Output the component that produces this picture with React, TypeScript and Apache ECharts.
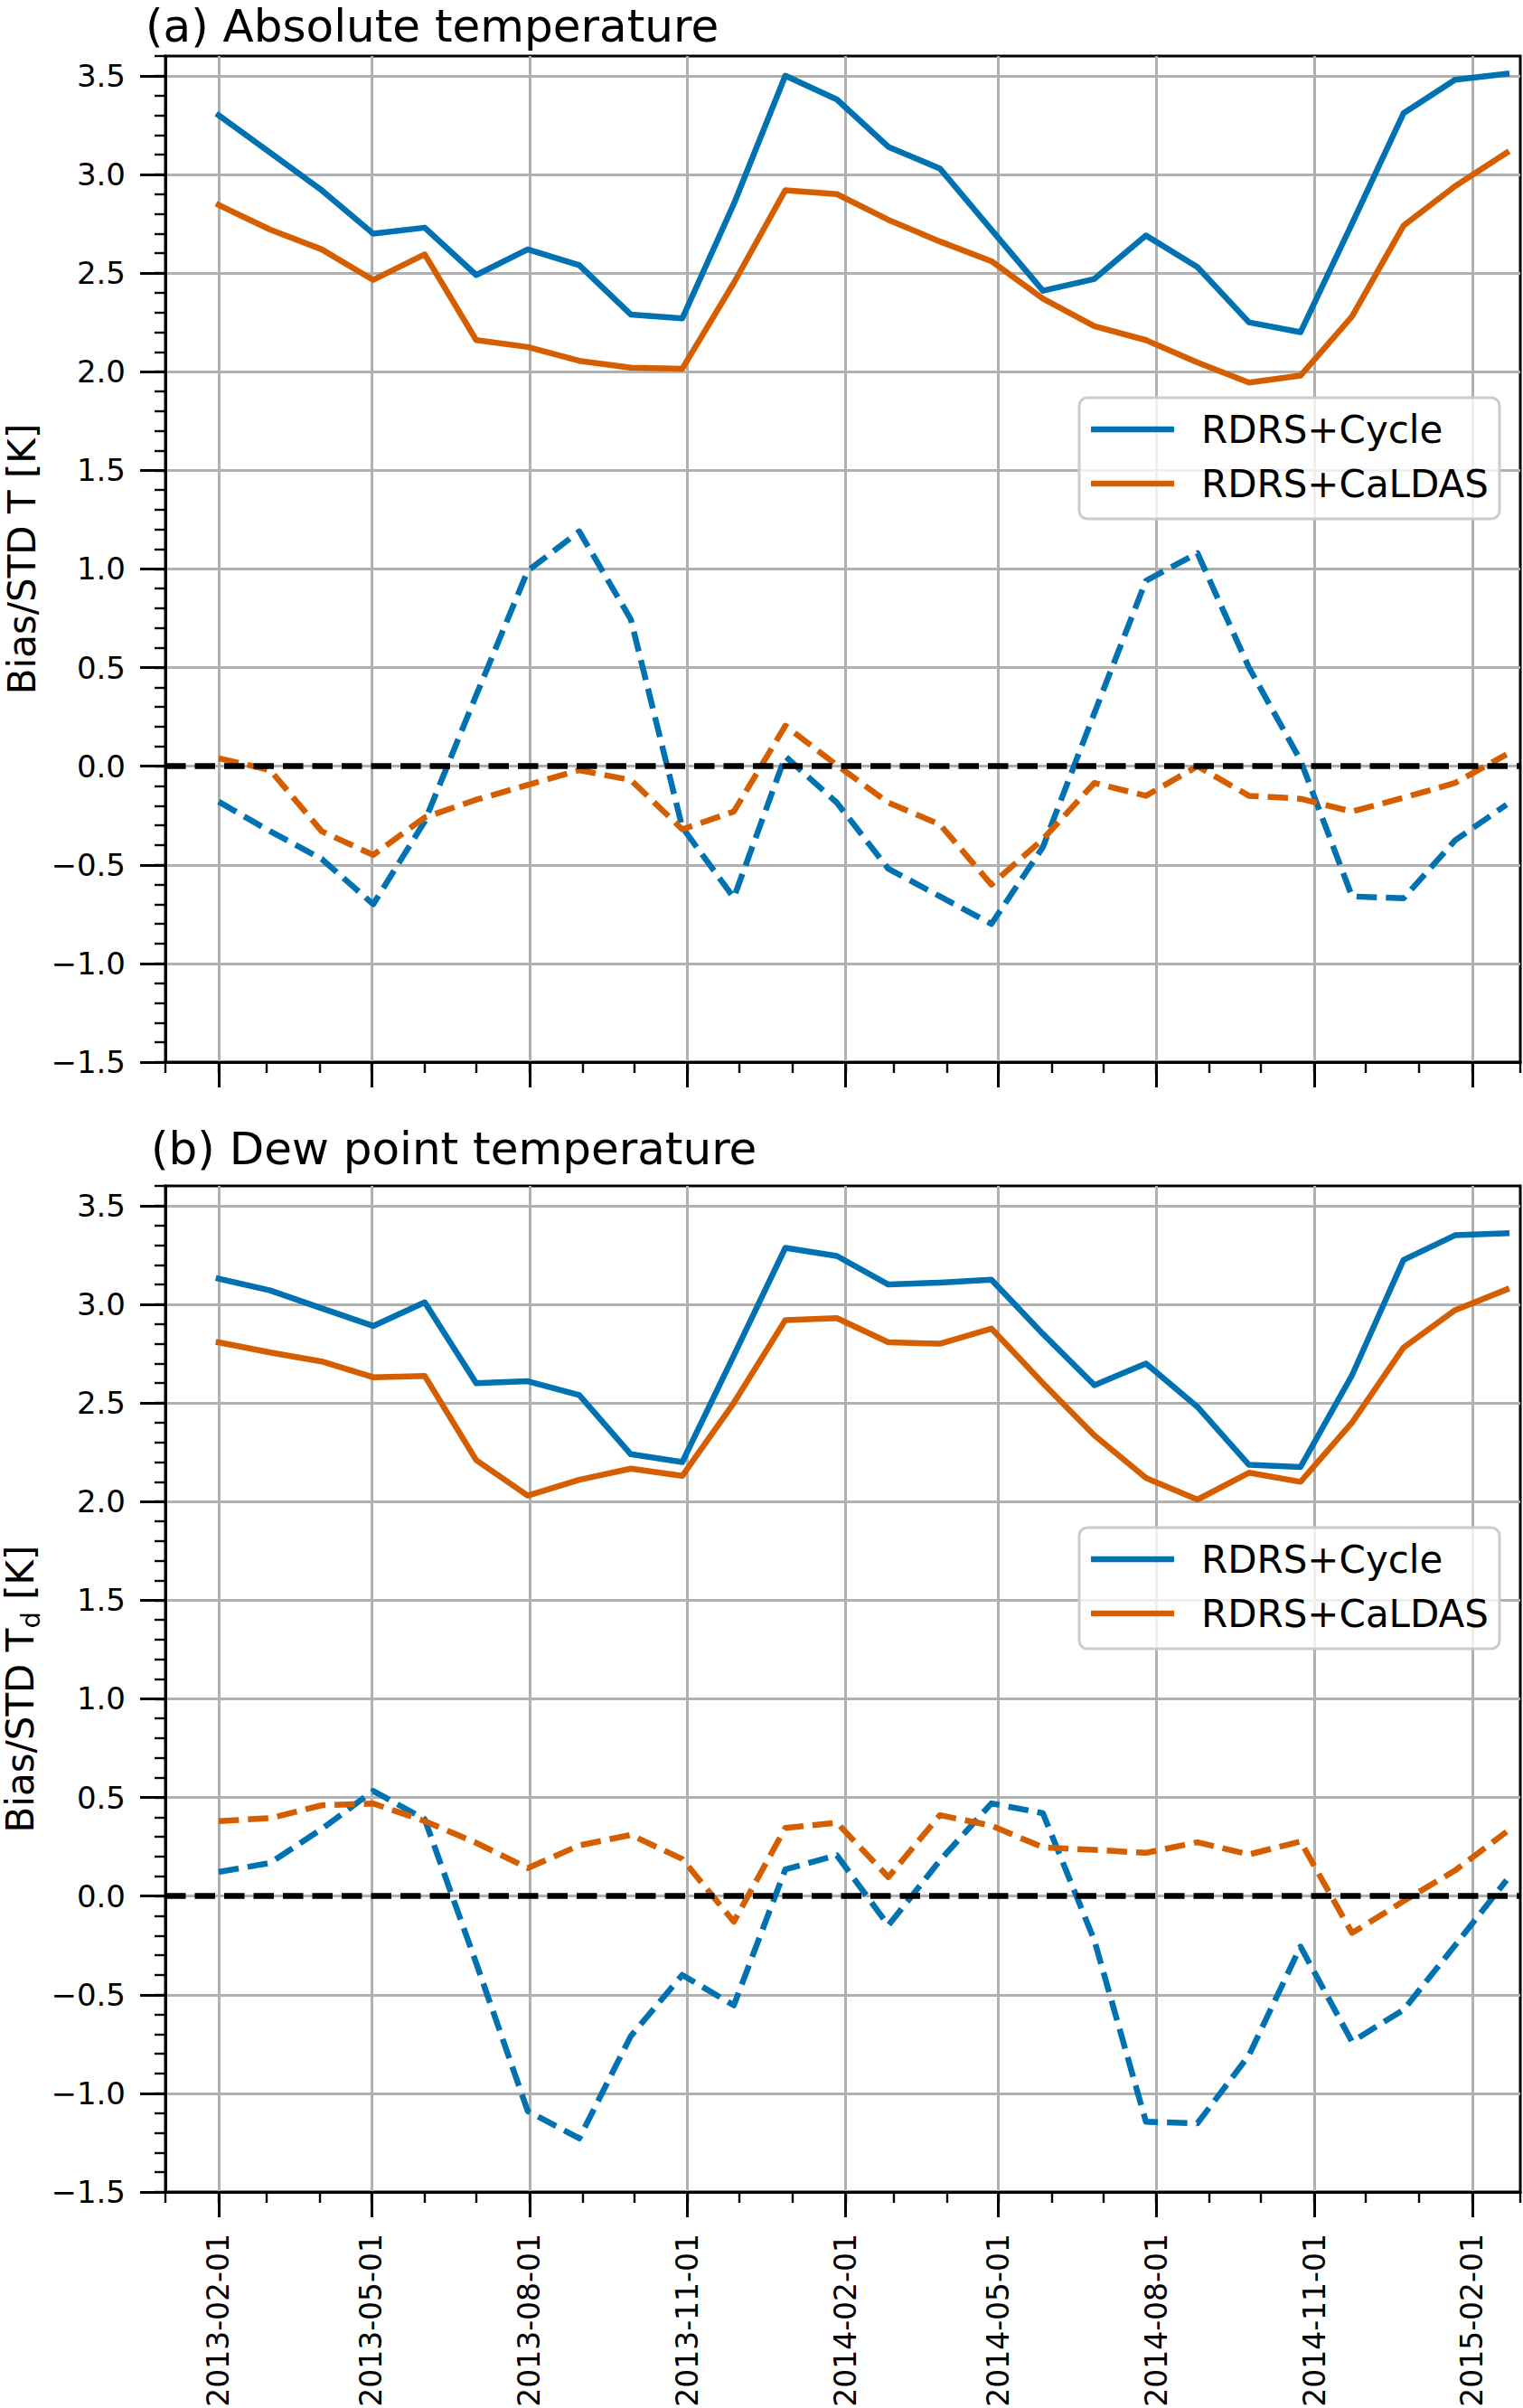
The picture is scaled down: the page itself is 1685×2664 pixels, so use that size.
import React, { useEffect, useRef } from "react";
import * as echarts from "echarts";

// ---- data ----
const dates = [
  "2013-02-01", "2013-03-03", "2013-04-02", "2013-05-02", "2013-06-01", "2013-07-01",
  "2013-07-31", "2013-08-30", "2013-09-29", "2013-10-29", "2013-11-28", "2013-12-28",
  "2014-01-27", "2014-02-26", "2014-03-28", "2014-04-27", "2014-05-27", "2014-06-26",
  "2014-07-26", "2014-08-25", "2014-09-24", "2014-10-24", "2014-11-23", "2014-12-23",
  "2015-01-22", "2015-02-21",
];

// (a) Absolute temperature
const cycleStdT = [3.30, 3.11, 2.92, 2.70, 2.73, 2.49, 2.62, 2.54, 2.29, 2.27, 2.85, 3.50, 3.38, 3.14, 3.03, 2.72, 2.41, 2.47, 2.69, 2.53, 2.25, 2.20, 2.75, 3.31, 3.48, 3.51];
const caldasStdT = [2.845, 2.72, 2.62, 2.465, 2.595, 2.16, 2.125, 2.055, 2.02, 2.015, 2.45, 2.92, 2.90, 2.77, 2.66, 2.56, 2.37, 2.23, 2.16, 2.047, 1.945, 1.98, 2.28, 2.74, 2.94, 3.11];
const cycleBiasT = [-0.18, -0.33, -0.47, -0.70, -0.28, 0.36, 0.99, 1.19, 0.745, -0.31, -0.667, 0.05, -0.185, -0.52, -0.66, -0.80, -0.41, 0.27, 0.94, 1.08, 0.50, 0.03, -0.66, -0.67, -0.376, -0.195];
const caldasBiasT = [0.04, -0.02, -0.33, -0.45, -0.26, -0.17, -0.095, -0.02, -0.07, -0.32, -0.23, 0.205, 0.005, -0.185, -0.295, -0.60, -0.37, -0.085, -0.15, 0.0, -0.15, -0.165, -0.23, -0.16, -0.085, 0.06];

// (b) Dew point temperature
const cycleStdTd = [3.13, 3.07, 2.98, 2.89, 3.01, 2.60, 2.61, 2.54, 2.24, 2.20, 2.74, 3.286, 3.245, 3.10, 3.11, 3.125, 2.85, 2.59, 2.70, 2.48, 2.186, 2.175, 2.64, 3.225, 3.35, 3.36];
const caldasStdTd = [2.807, 2.756, 2.71, 2.63, 2.637, 2.21, 2.03, 2.11, 2.167, 2.13, 2.50, 2.92, 2.93, 2.807, 2.80, 2.877, 2.60, 2.335, 2.12, 2.01, 2.146, 2.10, 2.40, 2.78, 2.97, 3.075];
const cycleBiasTd = [0.122, 0.168, 0.34, 0.533, 0.39, -0.34, -1.09, -1.228, -0.71, -0.40, -0.554, 0.135, 0.207, -0.149, 0.18, 0.47, 0.42, -0.225, -1.144, -1.152, -0.807, -0.256, -0.738, -0.577, -0.25, 0.081];
const caldasBiasTd = [0.38, 0.395, 0.46, 0.469, 0.38, 0.27, 0.142, 0.257, 0.31, 0.188, -0.13, 0.345, 0.372, 0.096, 0.41, 0.357, 0.247, 0.234, 0.219, 0.273, 0.211, 0.277, -0.187, -0.026, 0.13, 0.326];

const xMinDate = "2013-01-01";
const xMaxDate = "2015-03-01";
const xMajorTickDates = [
  "2013-02-01", "2013-05-01", "2013-08-01", "2013-11-01", "2014-02-01",
  "2014-05-01", "2014-08-01", "2014-11-01", "2015-02-01",
];
const yMin = -1.5;
const yMax = 3.6;
const yMajorTicks = [-1.5, -1.0, -0.5, 0.0, 0.5, 1.0, 1.5, 2.0, 2.5, 3.0, 3.5];

const titles = ["(a) Absolute temperature", "(b) Dew point temperature"];
const legendNames = ["RDRS+Cycle", "RDRS+CaLDAS"];
const yLabelA = "Bias/STD T [K]";
const yLabelBParts = ["Bias/STD T", "d", " [K]"]; // middle part is a subscript

// ---- style ----
const FONT = "DejaVu Sans";
const BLUE = "#0072B2";
const ORANGE = "#D55E00";
const GRID_COLOR = "#b0b0b0";
const GRID_LEFT = 183;
const GRID_W = 1499;
const GRID_H = 1113;
const GRID_TOPS = [62, 1312];
const LW = 6.5;
const DASH = [22.5, 10];

function ts(s: string): number {
  const [y, m, d] = s.split("-").map(Number);
  return Date.UTC(y, m - 1, d);
}
function pad2(n: number) {
  return n < 10 ? "0" + n : "" + n;
}
function fmtDate(v: number): string {
  const d = new Date(v);
  return d.getUTCFullYear() + "-" + pad2(d.getUTCMonth() + 1) + "-" + pad2(d.getUTCDate());
}
function fmtY(v: number): string {
  const r = Math.round(v * 10) / 10;
  return (r < 0 ? "\u2212" : "") + Math.abs(r).toFixed(1);
}

function monthlyTicks(): number[] {
  const out: number[] = [];
  const [y0, m0] = xMinDate.split("-").map(Number);
  const end = ts(xMaxDate);
  let y = y0;
  let m = m0 - 1;
  for (;;) {
    const t = Date.UTC(y, m, 1);
    if (t > end) break;
    out.push(t);
    m++;
    if (m > 11) {
      m = 0;
      y++;
    }
  }
  return out;
}
function yMinorTicks(): number[] {
  const out: number[] = [];
  for (let k = Math.round(yMin * 10); k <= Math.round(yMax * 10); k++) out.push(k / 10);
  return out;
}

function measure(text: string, size: number): number {
  const c = document.createElement("canvas");
  const ctx = c.getContext("2d");
  if (!ctx) return text.length * size * 0.6;
  ctx.font = size + "px '" + FONT + "'";
  return ctx.measureText(text).width;
}

export default function App() {
  const ref = useRef<HTMLDivElement>(null);

  useEffect(() => {
    document.body.style.margin = "0";
    document.body.style.overflow = "hidden";
    if (!ref.current) return;
    const chart = echarts.init(ref.current, undefined, { renderer: "svg" });

    const xMin = ts(xMinDate);
    const xMax = ts(xMaxDate);
    const xMajor = xMajorTickDates.map(ts);
    const xMinor = monthlyTicks();
    const yMinor = yMinorTicks();

    const grids: any[] = [];
    const xAxes: any[] = [];
    const yAxes: any[] = [];
    const series: any[] = [];
    const legends: any[] = [];
    const graphics: any[] = [];

    const panels = [
      { std: [cycleStdT, caldasStdT], bias: [cycleBiasT, caldasBiasT] },
      { std: [cycleStdTd, caldasStdTd], bias: [cycleBiasTd, caldasBiasTd] },
    ];

    panels.forEach((panel, p) => {
      grids.push({
        left: GRID_LEFT,
        top: GRID_TOPS[p],
        width: GRID_W,
        height: GRID_H,
        show: true,
        borderColor: "#000",
        borderWidth: 3,
        backgroundColor: "transparent",
        containLabel: false,
        outerBoundsMode: "none",
      });
      xAxes.push({
        type: "value",
        gridIndex: p,
        min: xMin,
        max: xMax,
        position: "bottom",
        axisLine: { show: true, onZero: false, lineStyle: { color: "#000", width: 3 } },
        axisTick: {
          show: true,
          inside: false,
          length: 28,
          customValues: xMajor,
          lineStyle: { color: "#000", width: 3 },
        },
        axisLabel: {
          show: p === 1,
          customValues: xMajor,
          rotate: 90,
          margin: 46,
          fontSize: 33,
          fontFamily: FONT,
          color: "#000",
          formatter: (v: number) => fmtDate(v),
        },
        splitLine: { show: true, lineStyle: { color: GRID_COLOR, width: 3 } },
      });
      xAxes.push({
        type: "value",
        gridIndex: p,
        min: xMin,
        max: xMax,
        position: "bottom",
        axisLine: { show: false, onZero: false },
        axisTick: {
          show: true,
          inside: false,
          length: 12,
          customValues: xMinor,
          lineStyle: { color: "#000", width: 2.4 },
        },
        axisLabel: { show: false },
        splitLine: { show: false },
      });
      yAxes.push({
        type: "value",
        gridIndex: p,
        min: yMin,
        max: yMax,
        interval: 0.5,
        position: "left",
        axisLine: { show: true, onZero: false, lineStyle: { color: "#000", width: 3 } },
        axisTick: {
          show: true,
          inside: false,
          length: 28,
          customValues: yMajorTicks,
          lineStyle: { color: "#000", width: 3 },
        },
        axisLabel: {
          show: true,
          customValues: yMajorTicks,
          margin: 44,
          fontSize: 34,
          fontFamily: FONT,
          color: "#000",
          formatter: (v: number) => fmtY(v),
        },
        splitLine: { show: true, lineStyle: { color: GRID_COLOR, width: 3 } },
        name: p === 0 ? yLabelA : "",
        nameLocation: "middle",
        nameRotate: 90,
        nameGap: 137,
        nameTextStyle: { fontSize: 42, lineHeight: 42, fontFamily: FONT, color: "#000" },
      });
      yAxes.push({
        type: "value",
        gridIndex: p,
        min: yMin,
        max: yMax,
        position: "left",
        axisLine: { show: false, onZero: false },
        axisTick: {
          show: true,
          inside: false,
          length: 12,
          customValues: yMinor,
          lineStyle: { color: "#000", width: 2.4 },
        },
        axisLabel: { show: false },
        splitLine: { show: false },
      });

      const mk = (name: string, vals: number[], color: string, dashed: boolean, extra: any = {}) => ({
        type: "line",
        name,
        xAxisIndex: p * 2,
        yAxisIndex: p * 2,
        data: dates.map((d, i) => [ts(d), vals[i]]),
        symbol: "none",
        showSymbol: false,
        silent: true,
        emphasis: { disabled: true },
        itemStyle: { color },
        lineStyle: {
          color,
          width: LW,
          type: dashed ? DASH : "solid",
          cap: dashed ? "butt" : "square",
          join: "round",
        },
        ...extra,
      });

      series.push(mk(legendNames[0], panel.std[0], BLUE, false));
      series.push(mk(legendNames[1], panel.std[1], ORANGE, false));
      series.push(mk(legendNames[0] + " bias", panel.bias[0], BLUE, true));
      series.push(
        mk(legendNames[1] + " bias", panel.bias[1], ORANGE, true, {
          markLine: {
            silent: true,
            symbol: "none",
            label: { show: false },
            emphasis: { disabled: true },
            lineStyle: { color: "#000", width: LW, type: DASH, cap: "butt" },
            data: [{ yAxis: 0 }],
          },
        })
      );

      legends.push({
        orient: "vertical",
        left: 1194,
        top: GRID_TOPS[p] + 378,
        data: legendNames,
        selectedMode: false,
        icon: "rect",
        itemWidth: 92,
        itemHeight: LW,
        itemGap: 18,
        padding: [14, 12, 18, 13],
        backgroundColor: "rgba(255,255,255,0.8)",
        borderColor: "#cccccc",
        borderWidth: 3,
        borderRadius: 9,
        textStyle: {
          fontSize: 42,
          lineHeight: 42,
          fontFamily: FONT,
          color: "#000",
          padding: [0, 0, 0, 25],
        },
      });

      graphics.push({
        type: "text",
        x: p === 0 ? 161 : 167,
        y: p === 0 ? 29 : 1271,
        silent: true,
        style: {
          text: titles[p],
          fontSize: 50,
          fontFamily: FONT,
          font: "50px 'DejaVu Sans'",
          fill: "#000",
          textAlign: "left",
          align: "left",
          textVerticalAlign: "middle",
          verticalAlign: "middle",
        },
      });
    });

    // y label of panel (b) with subscript, drawn as a rotated group
    const w1 = measure(yLabelBParts[0], 42);
    const w2 = measure(yLabelBParts[1], 29);
    const w3 = measure(yLabelBParts[2], 42);
    const W = w1 + w2 + w3;
    const baselineX = 37;
    const centerY = GRID_TOPS[1] + GRID_H / 2;
    const txt = (text: string, x: number, y: number, size: number) => ({
      type: "text",
      x,
      y,
      silent: true,
      style: {
        text,
        fontSize: size,
        fontFamily: FONT,
        font: size + "px 'DejaVu Sans'",
        fill: "#000",
        textAlign: "left",
        align: "left",
        textVerticalAlign: "middle",
        verticalAlign: "middle",
      },
    });
    graphics.push({
      type: "group",
      x: baselineX,
      y: centerY,
      rotation: Math.PI / 2,
      silent: true,
      children: [
        txt(yLabelBParts[0], -W / 2, -14.5, 42),
        txt(yLabelBParts[1], -W / 2 + w1, 7 - 10, 29),
        txt(yLabelBParts[2], -W / 2 + w1 + w2, -14.5, 42),
      ],
    });

    chart.setOption({
      animation: false,
      backgroundColor: "#ffffff",
      textStyle: { fontFamily: FONT },
      grid: grids,
      xAxis: xAxes,
      yAxis: yAxes,
      legend: legends,
      series,
      graphic: graphics,
    });

    return () => {
      chart.dispose();
    };
  }, []);

  return (
    <div
      ref={ref}
      style={{ position: "absolute", left: 0, top: 0, width: 1685, height: 2664 }}
    />
  );
}
